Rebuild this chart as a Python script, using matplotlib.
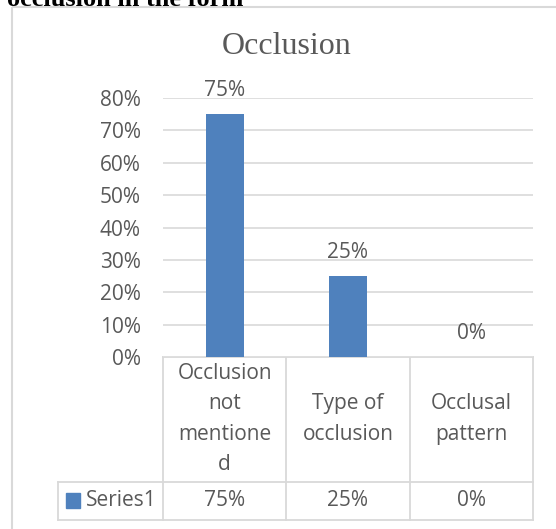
import matplotlib.pyplot as plt
from matplotlib.patches import Rectangle

categories = ['Occlusion\nnot\nmentione\nd', 'Type of\nocclusion', 'Occlusal\npattern']
values = [75, 25, 0]
series_name = 'Series1'
yticks = [0, 10, 20, 30, 40, 50, 60, 70, 80]

W, H = 556, 529
bar_color = '#4F81BD'
text_color = '#595959'
line_color = '#D9D9D9'
font = 'Open Sans'
fs = 15

fig = plt.figure(figsize=(W / 100, H / 100), dpi=100, facecolor='white')

# plot area in pixel units
px0, px1 = 163, 533
py_top, py_bot = 98, 357
ax = fig.add_axes([px0 / W, 1 - py_bot / H, (px1 - px0) / W, (py_bot - py_top) / H])

x = range(len(values))
ax.bar(x, values, width=0.31, color=bar_color, zorder=3)
ax.set_xlim(-0.5, len(values) - 0.5)
ax.set_ylim(0, 80)
ax.set_yticks(yticks)
ax.set_yticklabels(['{}%'.format(t) for t in yticks], fontfamily=font, fontsize=fs, color=text_color)
ax.tick_params(axis='y', length=0, pad=16)
ax.set_xticks([])
for s in ax.spines.values():
    s.set_visible(False)
ax.set_axisbelow(True)
ax.yaxis.grid(color=line_color, linewidth=1.2)

# value labels above bars
for i, v in enumerate(values):
    ax.annotate('{}%'.format(v), (i, v), xytext=(0, 17), textcoords='offset points',
                ha='center', va='center', fontfamily=font, fontsize=fs, color=text_color)

# overlay in pixel coordinates for frame, title and data table
ov = fig.add_axes([0, 0, 1, 1], zorder=-1)
ov.set_xlim(0, W)
ov.set_ylim(H, 0)
ov.axis('off')

ov.add_patch(Rectangle((12, 7), W + 20, H, fill=False, edgecolor=line_color, linewidth=1.5))
ov.text(287, 47, 'Occlusion', ha='center', va='center', fontfamily='Liberation Serif',
        fontsize=23, color=text_color)
ov.text(243, 6, 'occlusion in the form', ha='right', va='baseline', fontfamily='Liberation Serif',
        fontweight='bold', fontsize=19, color='black')

cw = (px1 - px0) / len(values)
edges = [px0 + cw * i for i in range(len(values) + 1)]
row1_bot, row2_bot = 482, 520
lw = 1.3
ov.plot([px0, px1], [py_bot, py_bot], color=line_color, lw=lw)
ov.plot([58, px1], [row1_bot, row1_bot], color=line_color, lw=lw)
ov.plot([58, px1], [row2_bot, row2_bot], color=line_color, lw=lw)
ov.plot([58, 58], [row1_bot, row2_bot], color=line_color, lw=lw)
for e in edges:
    ov.plot([e, e], [py_bot, row2_bot], color=line_color, lw=lw)

for i, (c, v) in enumerate(zip(categories, values)):
    cx = (edges[i] + edges[i + 1]) / 2
    ov.text(cx, 419, c, ha='center', va='center', fontfamily=font, fontsize=fs,
            color=text_color, linespacing=1.6)
    ov.text(cx, 501, '{}%'.format(v), ha='center', va='center', fontfamily=font,
            fontsize=fs, color=text_color)

ov.add_patch(Rectangle((66, 493), 14, 15, color=bar_color))
ov.text(86, 501, series_name, ha='left', va='center', fontfamily=font, fontsize=fs, color=text_color)

fig.savefig('out.png', dpi=100, facecolor='white')
